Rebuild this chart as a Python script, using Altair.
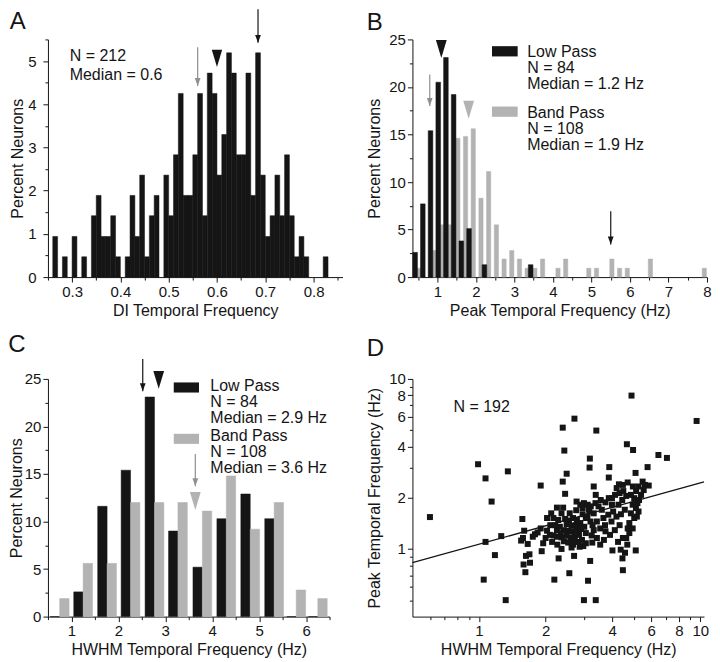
import altair as alt
import pandas as pd

FONT = "Liberation Sans"
INK = "#151515"
GREY = "#b3b3b3"
ARROW_GREY = "#8f8f8f"

# ---------------- Panel A: DI histogram (percent of 212 neurons) ----------------
a_bin_start = [0.26, 0.28, 0.30, 0.32, 0.34, 0.35, 0.36, 0.37, 0.38, 0.39,
               0.41, 0.42, 0.43, 0.44, 0.45, 0.46, 0.47,
               0.49, 0.50, 0.51, 0.52, 0.53, 0.54, 0.55, 0.56, 0.57, 0.58,
               0.59, 0.60, 0.61, 0.62, 0.63, 0.64, 0.65, 0.66, 0.67, 0.68,
               0.69, 0.70, 0.71, 0.72, 0.73, 0.74, 0.75, 0.76, 0.77, 0.78,
               0.82]
a_percent = [0.94, 0.47, 0.94, 0.47, 1.42, 1.89, 0.94, 0.94, 1.42, 0.47,
             0.47, 1.89, 0.94, 2.36, 0.47, 1.42, 1.89,
             2.36, 1.42, 2.83, 4.25, 1.89, 1.89, 2.83, 4.25, 1.42, 4.72,
             4.25, 2.36, 3.30, 5.19, 4.72, 2.83, 2.83, 4.72, 1.89, 5.19,
             2.36, 0.94, 1.42, 2.36, 1.42, 2.83, 1.42, 0.47, 0.94, 0.47,
             0.47]

# ---------------- Panel B: peak temporal frequency ----------------
b_low_center = [0.42, 0.62, 0.82, 1.02, 1.22, 1.42, 1.62, 1.82, 2.22, 3.42]
b_low_percent = [2.6, 7.7, 15.4, 20.5, 23.1, 19.2, 3.8, 5.1, 1.3, 1.3]
b_band_center = [0.53, 0.93, 1.13, 1.33, 1.53, 1.73, 1.93, 2.13, 2.33, 2.53,
                 2.73, 2.93, 3.13, 3.33, 3.53, 3.73, 4.13, 4.33, 4.93, 5.13,
                 5.53, 5.73, 5.93, 6.53, 7.93]
b_band_percent = [0.93, 2.8, 5.5, 5.5, 14.6, 14.8, 15.6, 8.3, 11.1, 5.5,
                  1.9, 2.8, 1.9, 0.93, 0.93, 1.9, 0.93, 1.9, 0.93, 0.93,
                  1.9, 0.93, 0.93, 1.9, 0.93]

# ---------------- Panel C: HWHM temporal frequency ----------------
c_bin_mid = [0.75, 1.25, 1.76, 2.26, 2.77, 3.27, 3.79, 4.30, 4.81, 5.32, 5.79, 6.25]
c_low_percent = [0, 2.6, 11.6, 15.4, 23.1, 9.0, 5.2, 10.3, 12.9, 10.3, 0, 0]
c_band_percent = [1.9, 5.6, 5.6, 12.0, 12.0, 12.0, 11.1, 14.8, 9.2, 12.0, 2.8, 1.9]

# ---------------- Panel D: HWHM vs peak (N = 192) ----------------
d_hwhm = [0.60, 0.99, 1.07, 1.14, 1.35, 1.07, 1.26, 1.18, 1.05, 1.32,
          4.89, 2.70, 2.39, 3.39, 9.63, 2.43, 4.66, 4.97, 3.17, 6.47,
          7.07, 3.16, 3.88, 5.78, 2.49, 5.10, 3.86, 1.90, 2.39, 2.45,
          2.76, 2.87, 2.25, 2.40, 2.12, 2.03, 2.57, 2.75, 1.57, 1.60,
          1.58, 1.66, 1.79, 1.95, 2.03, 2.09, 2.25, 2.25, 1.55, 1.63,
          1.69, 1.92, 2.36, 2.29, 2.69, 2.96, 3.18, 1.59, 1.70, 1.62,
          2.19, 2.56, 3.11, 2.98, 3.37, 4.01, 4.37, 4.57, 5.11, 4.45,
          4.47, 4.68, 2.66, 3.30, 5.85, 5.49, 5.26, 2.98, 2.45, 2.55,
          2.66, 2.77, 2.49, 2.62, 2.73, 2.87, 2.42, 2.53, 2.64, 2.77,
          2.89, 2.49, 2.59, 2.71, 2.83, 2.42, 2.53, 2.66, 2.80, 2.92,
          2.32, 2.34, 2.17, 2.14, 2.26, 3.04, 2.99, 3.04, 2.94, 3.15,
          3.10, 3.20, 3.14, 3.36, 3.47, 3.59, 3.30, 3.09, 3.19, 3.41,
          3.65, 3.84, 4.04, 4.18, 3.97, 3.71, 3.53, 3.30, 3.26, 3.41,
          3.91, 4.11, 4.32, 4.47, 4.25, 3.53, 3.25, 3.73, 3.67, 4.29,
          4.47, 4.70, 4.12, 4.32, 4.63, 4.86, 5.03, 5.29, 3.99, 4.19,
          4.49, 4.96, 5.13, 5.40, 5.55, 5.62, 4.95, 5.12, 4.86, 5.03,
          4.78, 4.70, 4.78, 4.63, 4.95, 5.20, 5.26, 5.17, 2.17, 2.28,
          2.10, 2.21, 2.00, 1.90, 1.84, 1.75, 2.36, 3.86, 3.73, 3.99,
          4.27, 4.44, 4.56, 4.38, 3.55, 3.37, 3.23, 3.04, 2.85, 2.62,
          2.94, 2.36]
d_peak = [1.54, 3.15, 2.60, 1.90, 2.86, 1.10, 1.19, 0.92, 0.66, 0.50,
          7.98, 5.84, 5.17, 4.97, 5.66, 3.79, 4.13, 3.82, 3.40, 3.57,
          3.43, 3.01, 3.03, 3.03, 2.77, 2.80, 2.63, 2.36, 2.49, 2.11,
          1.90, 1.82, 1.75, 1.75, 1.62, 1.52, 1.62, 1.69, 1.50, 1.28,
          1.16, 1.07, 1.22, 1.08, 1.28, 1.21, 1.29, 1.18, 1.12, 0.91,
          0.93, 0.97, 1.00, 0.88, 0.91, 1.04, 0.85, 0.81, 0.83, 0.73,
          0.66, 0.72, 0.65, 0.50, 0.50, 0.98, 0.99, 0.95, 0.98, 0.88,
          0.75, 1.06, 1.06, 2.33, 2.36, 2.49, 2.33, 1.86, 1.50, 1.47,
          1.52, 1.48, 1.40, 1.37, 1.38, 1.42, 1.29, 1.28, 1.27, 1.29,
          1.31, 1.20, 1.17, 1.19, 1.21, 1.11, 1.09, 1.11, 1.10, 1.13,
          1.35, 1.24, 1.20, 1.10, 1.06, 1.24, 1.35, 1.52, 1.60, 1.66,
          1.82, 1.78, 1.72, 1.86, 1.78, 1.70, 1.62, 1.55, 1.45, 1.45,
          1.52, 1.59, 1.66, 1.55, 1.45, 1.38, 1.32, 1.29, 1.38, 1.16,
          1.21, 1.29, 1.38, 1.16, 1.10, 1.06, 1.09, 1.27, 1.13, 2.40,
          2.38, 2.46, 2.08, 2.13, 2.05, 2.08, 1.99, 1.94, 1.99, 2.28,
          2.19, 2.33, 2.19, 2.08, 2.22, 2.38, 1.82, 1.74, 1.62, 1.52,
          1.42, 1.32, 1.24, 1.16, 1.32, 1.86, 1.66, 1.55, 1.52, 1.48,
          1.38, 1.38, 1.16, 1.32, 1.25, 1.18, 1.17, 1.99, 1.88, 1.82,
          1.82, 1.94, 1.70, 1.60, 1.94, 2.08, 1.20, 1.08, 1.03, 1.02,
          1.74, 1.62]
d_fit_hwhm = [0.5, 10.4]
d_fit_peak = [0.83, 2.48]

# ---------------- helpers ----------------
HEAD = "M-0.36,-1L0.36,-1L0,0Z"
TRI = "M-0.6,-1L0.6,-1L0,1Z"
SWATCH = "M-1,-0.4L1,-0.4L1,0.4L-1,0.4Z"
TEXT_SIZE = 16


def tick_axis(title, major, minor, fmt, label_pad=2, title_pad=3):
    test = " || ".join(f"abs(datum.value - {v}) < 1e-6" for v in major)
    return alt.Axis(
        title=title, values=sorted(major + minor), format=fmt,
        labelExpr=f"({test}) ? datum.label : ''",
        tickSize={"condition": {"test": test, "value": 5}, "value": 3},
        labelPadding=label_pad, titlePadding=title_pad,
        labelOverlap=False, labelFlush=False, grid=False,
        domain=True, ticks=True, labels=True,
    )


def enc(channel, scale, axis):
    def f(field):
        return channel(f"{field}:Q", scale=scale, axis=axis)
    return f


def bar_layer(df, lo, hi, value, color, X, Y):
    return alt.Chart(df).transform_calculate(
        bx=lo, bx2=hi, zero="0").mark_rect(
        color=color, stroke=color, strokeWidth=0.5).encode(
        x=X("bx"), x2="bx2:Q", y=Y(value), y2="zero:Q")


def arrow_layers(rows, X, Y):
    df = pd.DataFrame(rows, columns=["x", "y", "y2", "c"])
    shaft = alt.Chart(df).mark_rule(strokeWidth=1.2).encode(
        x=X("x"), y=Y("y"), y2="y2:Q", color=alt.Color("c:N", scale=None))
    head = alt.Chart(df).mark_point(shape=HEAD, filled=True, size=256, opacity=1,
                                    strokeWidth=0).encode(
        x=X("x"), y=Y("y2"), color=alt.Color("c:N", scale=None))
    return [shaft, head]


def marker_layer(rows, X, Y, size=324, shape=TRI):
    df = pd.DataFrame(rows, columns=["x", "y", "c"])
    return alt.Chart(df).mark_point(shape=shape, filled=True, size=size, opacity=1,
                                    strokeWidth=0).encode(
        x=X("x"), y=Y("y"), color=alt.Color("c:N", scale=None))


def text_layer(rows, X, Y):
    df = pd.DataFrame(rows, columns=["x", "y", "t"])
    return alt.Chart(df).mark_text(align="left", baseline="middle", font=FONT,
                                   fontSize=TEXT_SIZE, color=INK).encode(
        x=X("x"), y=Y("y"), text="t:N")


def ptitle(letter, offset):
    return alt.TitleParams(letter, anchor="start", frame="bounds", fontSize=24,
                           font=FONT, fontWeight="normal", color=INK, offset=offset)


pct_major = [0, 5, 10, 15, 20, 25]
pct_minor = [2.5, 7.5, 12.5, 17.5, 22.5]

# ---------------- Panel A ----------------
AX = enc(alt.X, alt.Scale(domain=[0.25, 0.86], nice=False, zero=False),
         tick_axis("DI Temporal Frequency", [0.3, 0.4, 0.5, 0.6, 0.7, 0.8],
                   [0.25, 0.35, 0.45, 0.55, 0.65, 0.75, 0.85], ".1f"))
AY = enc(alt.Y, alt.Scale(domain=[0, 5.5], nice=False, zero=False),
         tick_axis("Percent Neurons", [0, 1, 2, 3, 4, 5],
                   [0.5, 1.5, 2.5, 3.5, 4.5, 5.5], "~g", label_pad=7, title_pad=2))
dfA = pd.DataFrame({"lo": a_bin_start, "y": a_percent})
panelA = alt.layer(
    bar_layer(dfA, "datum.lo", "datum.lo + 0.01", "y", INK, AX, AY),
    *arrow_layers([[0.56, 5.32, 4.42, ARROW_GREY], [0.685, 6.2, 5.42, INK]], AX, AY),
    marker_layer([[0.60, 5.06, INK]], AX, AY, size=300),
    text_layer([[0.295, 5.12, "N = 212"], [0.295, 4.68, "Median = 0.6"]], AX, AY),
).properties(width=295, height=238, title=ptitle("A", -25))

# ---------------- Panel B ----------------
BX = enc(alt.X, alt.Scale(domain=[0.35, 8.0], nice=False, zero=False),
         tick_axis("Peak Temporal Frequency (Hz)", [1, 2, 3, 4, 5, 6, 7, 8],
                   [0.5, 1.5, 2.5, 3.5, 4.5, 5.5, 6.5, 7.5], "~g"))
BY = enc(alt.Y, alt.Scale(domain=[0, 25], nice=False, zero=False),
         tick_axis("Percent Neurons", pct_major, pct_minor, "~g", title_pad=6))
dfB_low = pd.DataFrame({"c": b_low_center, "y": b_low_percent})
dfB_band = pd.DataFrame({"c": b_band_center, "y": b_band_percent})
panelB = alt.layer(
    bar_layer(dfB_band, "datum.c - 0.055", "datum.c + 0.055", "y", GREY, BX, BY),
    bar_layer(dfB_low, "datum.c - 0.06", "datum.c + 0.06", "y", INK, BX, BY),
    *arrow_layers([[0.80, 21.3, 18.0, ARROW_GREY], [5.5, 6.93, 3.43, INK]], BX, BY),
    marker_layer([[1.10, 24.0, INK], [1.81, 17.6, GREY]], BX, BY),
    marker_layer([[2.75, 23.75, INK], [2.75, 17.4, GREY]], BX, BY, size=660, shape=SWATCH),
    text_layer([[3.33, 23.7, "Low Pass"], [3.33, 22.0, "N = 84"],
                [3.33, 20.3, "Median = 1.2 Hz"], [3.33, 17.3, "Band Pass"],
                [3.33, 15.6, "N = 108"], [3.33, 13.9, "Median = 1.9 Hz"]], BX, BY),
).properties(width=295, height=238, title=ptitle("B", -3))

# ---------------- Panel C ----------------
CX = enc(alt.X, alt.Scale(domain=[0.5, 6.5], nice=False, zero=False),
         tick_axis("HWHM Temporal Frequency (Hz)", [1, 2, 3, 4, 5, 6],
                   [0.5, 1.5, 2.5, 3.5, 4.5, 5.5, 6.5], "~g"))
CY = enc(alt.Y, alt.Scale(domain=[0, 25], nice=False, zero=False),
         tick_axis("Percent Neurons", pct_major, pct_minor, "~g", title_pad=0))
dfC = pd.DataFrame({"m": c_bin_mid, "low": c_low_percent, "band": c_band_percent})
panelC = alt.layer(
    bar_layer(dfC, "datum.m - 0.2", "datum.m", "low", INK, CX, CY),
    bar_layer(dfC, "datum.m", "datum.m + 0.2", "band", GREY, CX, CY),
    *arrow_layers([[2.52, 27.1, 23.7, INK], [3.64, 17.1, 13.7, ARROW_GREY]], CX, CY),
    marker_layer([[2.86, 24.9, INK], [3.64, 12.15, GREY]], CX, CY),
    marker_layer([[3.45, 24.1, INK], [3.45, 18.7, GREY]], CX, CY, size=640, shape=SWATCH),
    text_layer([[3.96, 24.3, "Low Pass"], [3.96, 22.62, "N = 84"],
                [3.96, 20.94, "Median = 2.9 Hz"], [3.96, 18.95, "Band Pass"],
                [3.96, 17.27, "N = 108"], [3.96, 15.59, "Median = 3.6 Hz"]], CX, CY),
).properties(width=282, height=238, title=ptitle("C", 1))

# ---------------- Panel D ----------------
log_major = [1, 2, 4, 6, 8, 10]
DX = enc(alt.X, alt.Scale(type="log", domain=[0.5, 10.4], nice=False),
         tick_axis("HWHM Temporal Frequency (Hz)", log_major,
                   [0.6, 0.7, 0.8, 0.9, 3, 5, 7, 9], "~g"))
DY = enc(alt.Y, alt.Scale(type="log", domain=[0.4, 10], nice=False),
         tick_axis("Peak Temporal Frequency (Hz)", log_major,
                   [0.5, 0.6, 0.7, 0.8, 0.9, 3, 5, 7, 9], "~g", title_pad=6))
dfD = pd.DataFrame({"x": d_hwhm, "y": d_peak})
dfFit = pd.DataFrame({"x": d_fit_hwhm, "y": d_fit_peak})
panelD = alt.layer(
    alt.Chart(dfD).mark_square(size=36, color=INK, opacity=1).encode(x=DX("x"), y=DY("y")),
    alt.Chart(dfFit).mark_line(color=INK, strokeWidth=1.3).encode(x=DX("x"), y=DY("y")),
    text_layer([[0.766, 6.87, "N = 192"]], DX, DY),
).properties(width=292, height=238, title=ptitle("D", 11))

chart = alt.concat(
    panelA, panelB, panelC, panelD, columns=2,
    spacing={"row": 15, "column": 19}, align="all", bounds="full",
).properties(padding=0, background="white").configure_view(stroke=None).configure_axis(
    labelFont=FONT, titleFont=FONT, labelFontSize=15, titleFontSize=16,
    titleFontWeight="normal", labelColor=INK, titleColor=INK,
    domainColor=INK, tickColor=INK, domainWidth=1, tickWidth=1,
)

chart.save("out.html", embed_options={"renderer": "svg", "actions": False})
